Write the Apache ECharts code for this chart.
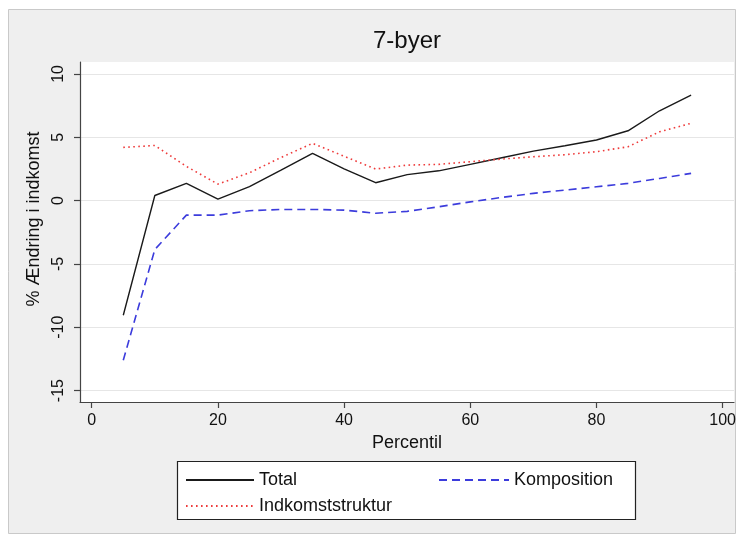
<!DOCTYPE html>
<html>
<head>
<meta charset="utf-8">
<script src="https://cdn.jsdelivr.net/npm/echarts@6/dist/echarts.min.js"></script>
<style>
html,body{margin:0;padding:0;background:#ffffff;}
#chart{width:743px;height:542px;}
</style>
</head>
<body>
<div id="chart"></div>
<script>
var percentiles = [5,10,15,20,25,30,35,40,45,50,55,60,65,70,75,80,85,90,95];
var total = [-9.05,0.4,1.36,0.12,1.1,2.4,3.73,2.5,1.41,2.05,2.35,2.86,3.38,3.9,4.33,4.78,5.51,7.09,8.33];
var indkomststruktur = [4.2,4.35,2.7,1.3,2.2,3.4,4.52,3.5,2.49,2.8,2.86,3.07,3.28,3.46,3.62,3.86,4.25,5.43,6.1];
var komposition = [-12.6,-3.86,-1.15,-1.15,-0.8,-0.7,-0.7,-0.75,-1.0,-0.85,-0.49,-0.1,0.25,0.57,0.83,1.09,1.36,1.75,2.15];
var yTicks = [-15,-10,-5,0,5,10];
var xTicks = [0,20,40,60,80,100];

function pairs(ys){ return percentiles.map(function(p,i){ return [p, ys[i]]; }); }

var chart = echarts.init(document.getElementById('chart'), null, {renderer:'canvas'});
var FONT = 'Liberation Sans, Arial, sans-serif';
var legendCommon = {padding:0, itemHeight:14, itemGap:14,
  itemStyle:{opacity:0, borderWidth:0},
  textStyle:{fontFamily:FONT, fontSize:18, color:'#111111'}};
function lg(name, left, top, w){
  var o = {}; for (var k in legendCommon) o[k] = legendCommon[k];
  o.data = [name]; o.left = left; o.top = top; o.itemWidth = w; return o;
}
var option = {
  animation:false,
  backgroundColor:'#ffffff',
  graphic:[
    {type:'rect', z:-10, shape:{x:8.5,y:9.5,width:727,height:524}, style:{fill:'#efefef', stroke:'#c9c9c9', lineWidth:1}},
    {type:'rect', z:-5, shape:{x:177.5,y:461.5,width:458,height:58}, style:{fill:'#ffffff', stroke:'#222222', lineWidth:1.2}}
  ],
  title:{
    text:'7-byer', left:407, top:29, textAlign:'center', padding:0,
    textStyle:{fontFamily:FONT, fontSize:24, fontWeight:'normal', color:'#111111'}
  },
  legend:[
    lg('Total', 185, 471, 68),
    lg('Komposition', 438, 471, 70),
    lg('Indkomststruktur', 185, 497, 68)
  ],
  grid:{left:80, right:9, top:62, bottom:140, show:true, backgroundColor:'#ffffff', borderWidth:0, containLabel:false},
  xAxis:{
    type:'value', min:-1.86, max:101.8,
    name:'Percentil', nameLocation:'middle', nameGap:31,
    nameTextStyle:{fontFamily:FONT, fontSize:18, color:'#111111'},
    axisLine:{show:true, onZero:false, lineStyle:{color:'#444444', width:1.2}},
    axisTick:{show:true, length:6, customValues:xTicks, lineStyle:{color:'#444444', width:1.2}},
    axisLabel:{customValues:xTicks, fontFamily:FONT, fontSize:16, color:'#111111', margin:11},
    splitLine:{show:false}
  },
  yAxis:{
    type:'value', min:-15.9, max:10.94,
    name:'% Ændring i indkomst', nameLocation:'middle', nameGap:33, nameRotate:90,
    nameTextStyle:{fontFamily:FONT, fontSize:18, color:'#111111', padding:[0,0,0,26]},
    axisLine:{show:true, onZero:false, lineStyle:{color:'#444444', width:1.2}},
    axisTick:{show:true, length:6, customValues:yTicks, lineStyle:{color:'#444444', width:1.2}},
    axisLabel:{customValues:yTicks, rotate:90, fontFamily:FONT, fontSize:16, color:'#111111', margin:13},
    splitLine:{show:true, lineStyle:{color:'#e6e6e6', width:1}}
  },
  series:[
    {name:'Total', type:'line', data:pairs(total), symbol:'none', color:'#1a1a1a',
     lineStyle:{color:'#1a1a1a', width:1.4, type:'solid'}},
    {name:'Indkomststruktur', type:'line', data:pairs(indkomststruktur), symbol:'none', color:'#ee3b3b',
     lineStyle:{color:'#ee3b3b', width:1.6, type:[1.6,3.4]}},
    {name:'Komposition', type:'line', data:pairs(komposition), symbol:'none', color:'#3c3cdc',
     lineStyle:{color:'#3c3cdc', width:1.6, type:[8,5]}}
  ]
};
chart.setOption(option);
</script>
</body>
</html>
